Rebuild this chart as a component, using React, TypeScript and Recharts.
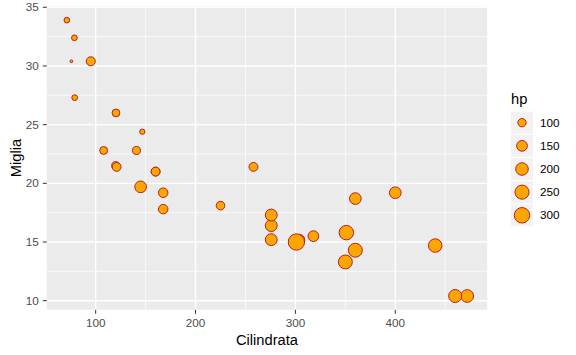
import React from "react";
import {
  ScatterChart,
  Scatter,
  XAxis,
  YAxis,
  CartesianGrid,
  ReferenceLine,
  Legend,
} from "recharts";

// mtcars: displacement (disp), miles per gallon (mpg), horsepower (hp)
const disp = [160, 160, 108, 258, 360, 225, 360, 146.7, 140.8, 167.6, 167.6, 275.8, 275.8, 275.8, 472, 460, 440, 78.7, 75.7, 71.1, 120.1, 318, 304, 350, 400, 79, 120.3, 95.1, 351, 145, 301, 121];
const mpg = [21.0, 21.0, 22.8, 21.4, 18.7, 18.1, 14.3, 24.4, 22.8, 19.2, 17.8, 16.4, 17.3, 15.2, 10.4, 10.4, 14.7, 32.4, 30.4, 33.9, 21.5, 15.5, 15.2, 13.3, 19.2, 27.3, 26.0, 30.4, 15.8, 19.7, 15.0, 21.4];
const hp = [110, 110, 93, 110, 175, 105, 245, 62, 95, 123, 123, 180, 180, 180, 205, 215, 230, 66, 52, 65, 97, 150, 150, 245, 175, 66, 91, 113, 264, 175, 335, 109];

const xTicks = [100, 200, 300, 400];
const yTicks = [10, 15, 20, 25, 30, 35];
const xMinor = [150, 250, 350, 450];
const yMinor = [12.5, 17.5, 22.5, 27.5, 32.5];
const legendBreaks = [100, 150, 200, 250, 300];

const data = disp.map((d, i) => ({ disp: d, mpg: mpg[i], hp: hp[i] }));

const hpMin = Math.min(...hp);
const hpMax = Math.max(...hp);
const xMin = Math.min(...disp);
const xMax = Math.max(...disp);
const yMin = Math.min(...mpg);
const yMax = Math.max(...mpg);
const xPad = (xMax - xMin) * 0.05;
const yPad = (yMax - yMin) * 0.05;

const FILL = "#FFA500";
const STROKE = "#B22222";
const FONT = "'Liberation Sans', Arial, sans-serif";

// ggplot-like area scale: size 1..6
function radius(h: number) {
  const t = Math.max(0, (h - hpMin) / (hpMax - hpMin));
  const size = 1 + 5 * Math.sqrt(t);
  return 1.36 * size;
}

const PointShape = (props: any) => {
  const { cx, cy, payload } = props;
  if (cx == null || cy == null) return null;
  return (
    <circle cx={cx} cy={cy} r={radius(payload.hp)} fill={FILL} stroke={STROKE} strokeWidth={1} />
  );
};

const LegendContent = () => {
  const top0 = 26.7;
  const step = 23.15;
  return (
    <svg width={76} height={150} style={{ display: "block", overflow: "visible" }}>
      <text x={11} y={19} fontSize={14.7} fontFamily={FONT} fill="#000">
        hp
      </text>
      {legendBreaks.map((b, i) => {
        const y = top0 + i * step;
        return (
          <g key={b}>
            <rect x={11} y={y} width={22} height={22} fill="#F2F2F2" />
            <circle cx={22} cy={y + 11} r={radius(b)} fill={FILL} stroke={STROKE} strokeWidth={1} />
            <text x={40} y={y + 11} dy="0.35em" fontSize={11.7} fontFamily={FONT} fill="#000">
              {b}
            </text>
          </g>
        );
      })}
    </svg>
  );
};

export default function App() {
  return (
    <div style={{ position: "absolute", left: 0, top: 0, width: 576, height: 355, background: "#fff" }}>
      <ScatterChart
        width={576}
        height={355}
        margin={{ top: 6.4, right: 88.8, bottom: 0, left: 0 }}
        style={{ fontFamily: FONT }}
      >
        <CartesianGrid
          fill="#EBEBEB"
          stroke="#FFFFFF"
          strokeWidth={1.4}
          horizontalValues={yTicks}
          verticalValues={xTicks}
        />
        {xMinor.map((v) => (
          <ReferenceLine key={"vx" + v} x={v} stroke="#FFFFFF" strokeWidth={0.7} />
        ))}
        {yMinor.map((v) => (
          <ReferenceLine key={"hy" + v} y={v} stroke="#FFFFFF" strokeWidth={0.7} />
        ))}
        <XAxis
          type="number"
          dataKey="disp"
          domain={[xMin - xPad, xMax + xPad]}
          ticks={xTicks}
          allowDataOverflow
          height={45.2}
          axisLine={false}
          tickLine={{ stroke: "#333333", strokeWidth: 1 }}
          tickSize={4}
          tickMargin={5}
          tick={{ fill: "#4D4D4D", fontSize: 11.7, fontFamily: FONT }}
          label={{
            value: "Cilindrata",
            position: "insideTop",
            offset: 25,
            style: { fill: "#000", fontSize: 14.7, fontFamily: FONT },
          }}
        />
        <YAxis
          type="number"
          dataKey="mpg"
          domain={[yMin - yPad, yMax + yPad]}
          ticks={yTicks}
          allowDataOverflow
          width={46.8}
          axisLine={false}
          tickLine={{ stroke: "#333333", strokeWidth: 1 }}
          tickSize={4}
          tickMargin={4}
          tick={{ fill: "#4D4D4D", fontSize: 11.7, fontFamily: FONT }}
          label={{
            value: "Miglia",
            angle: -90,
            position: "insideLeft",
            offset: 16,
            style: { fill: "#000", fontSize: 14.7, fontFamily: FONT, textAnchor: "middle" },
          }}
        />
        <Legend
          layout="vertical"
          align="center"
          verticalAlign="middle"
          content={<LegendContent />}
          wrapperStyle={{ position: "absolute", left: 500, top: 85, width: 76, height: 150 }}
        />
        <Scatter data={data} shape={PointShape} isAnimationActive={false} />
      </ScatterChart>
    </div>
  );
}
